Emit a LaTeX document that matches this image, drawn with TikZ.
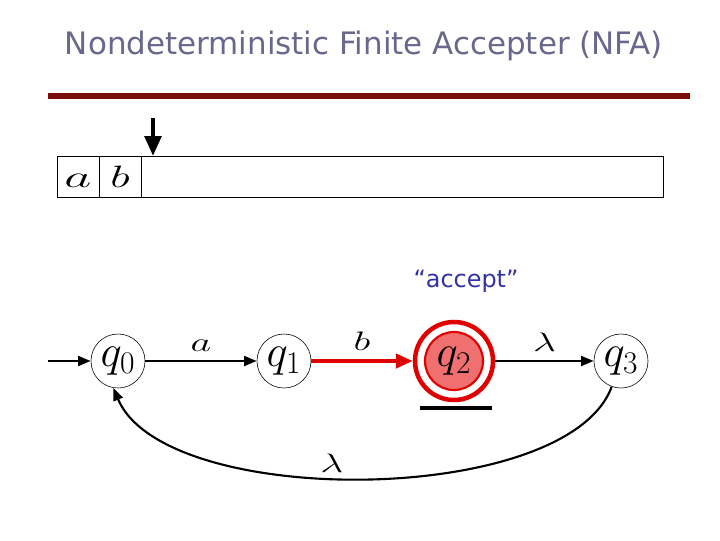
\documentclass[tikz,border=0pt]{standalone}
\usepackage{fix-cm}
\usepackage{graphicx}
\usepackage{fontspec}
\newfontfamily\slidefont{DejaVu Sans}
\definecolor{TitleGray}{RGB}{104, 104, 142}
\definecolor{AcceptBlue}{RGB}{50, 50, 165}
\definecolor{RuleRed}{RGB}{122, 12, 12}
\definecolor{StateRed}{RGB}{225, 0, 0}
\definecolor{StateFill}{RGB}{240, 112, 112}
\newcommand{\lat}[2][1.5]{\scalebox{#1}[1]{$#2$}}
\usetikzlibrary{arrows.meta, positioning, calc}

\begin{document}
\begin{tikzpicture}[
    x=0.025cm, y=-0.025cm,
    stare/.style={circle, draw, thin, minimum size=1.35cm, inner sep=0pt,
                  font=\fontsize{32}{32}\selectfont},
    celula/.style={draw, thin, minimum height=1.025cm, inner sep=0pt,
                   text height=15pt, text depth=0pt, font=\fontsize{22}{22}\selectfont},
    eticheta/.style={font=\fontsize{19}{19}\selectfont, inner sep=1pt, text=black},
    tranz/.style={-{Triangle[length=9pt, width=7pt]}, line width=1.7pt}
]
\useasboundingbox (0,0) rectangle (720,540);
\node[font=\slidefont\fontsize{22}{24}\selectfont, text=TitleGray] (titlu) at (364,46) {Nondeterministic Finite Accepter (NFA)};
\draw[RuleRed, line width=3.6pt] (48,96) -- (690,96);
\node[celula, minimum width=1.05cm] (ca) at (78,176.5) {\lat[1.7]{a}};
\node[celula, minimum width=1.05cm] (cb) at (120,176.5) {\lat[1.5]{b}};
\node[celula, minimum width=13.05cm] (rest) at (402,176.5) {};
\coordinate (cap) at (153,118);
\draw[-{Triangle[length=14pt, width=12pt]}, line width=2.2pt] (cap) -- (cap |- rest.north);
\node[font=\slidefont\fontsize{17}{20}\selectfont, text=AcceptBlue] (accept) at (466,281) {“accept”};
\node[stare] (q0) at (118,361) {$q_0$};
\node[stare] (q1) at (284,361) {$q_1$};
\node[stare, fill=StateFill, draw=StateRed, line width=1.5pt, minimum size=1.45cm] (q2) at (454,361) {$q_2$};
\node[circle, draw=StateRed, line width=3.2pt, minimum size=1.95cm] (q2f) at (q2) {};
\node[stare] (q3) at (621,361) {$q_3$};
\node[fill=black, minimum width=1.8cm, minimum height=0.12cm, inner sep=0pt] (bara) at (456,408) {};
\coordinate (start) at (48,361);
\draw[tranz] (start) -- (q0);
\draw[tranz] (q0) -- node[eticheta, above=5pt] {\lat{a}} (q1);
\draw[tranz, StateRed, line width=2.8pt, -{Triangle[length=12pt, width=10pt]}] (q1) -- node[eticheta, above=5pt] {\lat{b}} (q2f);
\draw[tranz] (q2f) -- node[eticheta, above=5pt] {\lat{\lambda}} (q3);
\draw[tranz, line width=1.5pt] (q3.-110) .. controls (568,507) and (165,510) .. (q0.-100) node[eticheta, pos=0.55, above=2pt] {\lat{\lambda}};
\end{tikzpicture}
\end{document}
